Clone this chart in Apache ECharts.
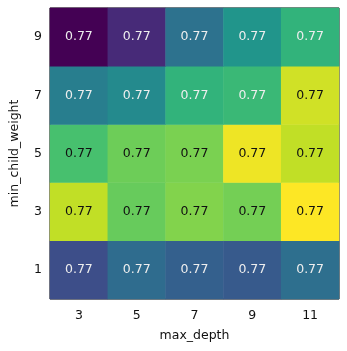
<!DOCTYPE html>
<html>
<head>
<meta charset="utf-8">
<script src="https://cdn.jsdelivr.net/npm/echarts@6/dist/echarts.min.js"></script>
<style>
  html, body { margin: 0; padding: 0; background: #fff; }
  #chart { width: 347px; height: 351px; }
</style>
</head>
<body>
<div id="chart"></div>
<script>
// Grid-search scores: max_depth (columns) x min_child_weight (rows)
const maxDepth = ['3', '5', '7', '9', '11'];
const minChildWeight = ['1', '3', '5', '7', '9'];

// one array per min_child_weight row, values ordered by max_depth
const scoresMcw1 = [0.7675, 0.7685, 0.7681, 0.7679, 0.7686];
const scoresMcw3 = [0.7732, 0.7720, 0.7724, 0.7722, 0.7740];
const scoresMcw5 = [0.7715, 0.7721, 0.7723, 0.7738, 0.7732];
const scoresMcw7 = [0.7691, 0.7695, 0.7710, 0.7712, 0.7734];
const scoresMcw9 = [0.7655, 0.7665, 0.7687, 0.7699, 0.7710];

const rows = [scoresMcw1, scoresMcw3, scoresMcw5, scoresMcw7, scoresMcw9];

const viridis = ['#440154', '#482475', '#414487', '#355f8d', '#2a788e',
                 '#21918c', '#22a884', '#44bf70', '#7ad151', '#bddf26', '#fde725'];

const all = rows.flat();
const vMin = Math.min(...all);
const vMax = Math.max(...all);
const textThreshold = vMin + (vMax - vMin) * 0.69;

const cells = [];
rows.forEach((row, yi) => {
  row.forEach((v, xi) => {
    cells.push({
      value: [xi, yi, v],
      label: { color: v > textThreshold ? '#111111' : '#eeeeee' }
    });
  });
});

const font = 'DejaVu Sans';
const fs = 12.5;
const chart = echarts.init(document.getElementById('chart'), null, { renderer: 'canvas' });
chart.setOption({
  animation: false,
  backgroundColor: '#ffffff',
  grid: {
    left: 47, right: 8, top: 8, bottom: 52,
    show: true, borderColor: '#000000', borderWidth: 1, backgroundColor: 'transparent'
  },
  xAxis: {
    type: 'category',
    data: maxDepth,
    name: 'max_depth',
    nameLocation: 'middle',
    nameGap: 30,
    nameTextStyle: { fontFamily: font, fontSize: fs, color: '#111' },
    axisLine: { show: false },
    axisTick: { alignWithLabel: true, length: 4, lineStyle: { color: '#000' } },
    axisLabel: { fontFamily: font, fontSize: fs, color: '#111', margin: 10 },
    splitLine: { show: false }
  },
  yAxis: {
    type: 'category',
    data: minChildWeight,
    name: 'min_child_weight',
    nameLocation: 'middle',
    nameGap: 29,
    nameRotate: 90,
    nameTextStyle: { fontFamily: font, fontSize: fs, color: '#111' },
    axisLine: { show: false },
    axisTick: { alignWithLabel: true, length: 4, lineStyle: { color: '#000' } },
    axisLabel: { fontFamily: font, fontSize: fs, color: '#111', margin: 8 },
    splitLine: { show: false }
  },
  visualMap: {
    show: false,
    type: 'continuous',
    min: vMin,
    max: vMax,
    dimension: 2,
    inRange: { color: viridis }
  },
  series: [{
    type: 'heatmap',
    data: cells,
    label: {
      show: true,
      fontFamily: font,
      fontSize: fs,
      formatter: p => p.value[2].toFixed(2)
    },
    itemStyle: { borderWidth: 0 },
    emphasis: { disabled: true }
  }]
});
</script>
</body>
</html>
